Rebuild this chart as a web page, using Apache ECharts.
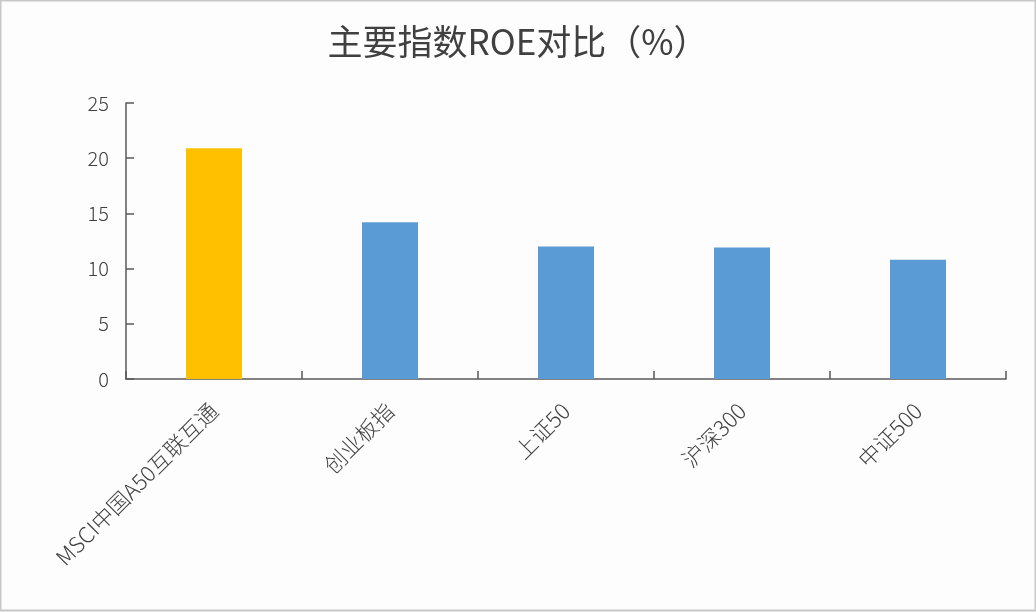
<!DOCTYPE html>
<html>
<head>
<meta charset="utf-8">
<script src="https://cdn.jsdelivr.net/npm/echarts@6/dist/echarts.min.js"></script>
<style>
html,body{margin:0;padding:0;background:#fdfdfd;}
#c{width:1036px;height:612px;}
</style>
</head>
<body>
<div id="c"></div>
<script>
const titleText = '主要指数ROE对比（%）';
const categories = ['MSCI中国A50互联互通', '创业板指', '上证50', '沪深300', '中证500'];
const roeValues = [20.9, 14.2, 12.0, 11.9, 10.8];
const barColors = ['#FFC000', '#5B9BD5', '#5B9BD5', '#5B9BD5', '#5B9BD5'];
const yTicks = { min: 0, max: 25, interval: 5 };

const chart = echarts.init(document.getElementById('c'));
const font = '"Noto Sans CJK SC", "Noto Sans", sans-serif';
chart.setOption({
  backgroundColor: '#fdfdfd',
  animation: false,
  title: {
    text: titleText,
    left: 'center',
    top: 19,
    textStyle: { fontFamily: font, fontSize: 35, fontWeight: 'normal', color: '#404040' }
  },
  graphic: [{
    type: 'rect',
    shape: { x: 0.5, y: 0.5, width: 1035, height: 610 },
    style: { fill: 'none', stroke: '#c8c8c8', lineWidth: 2 },
    silent: true
  }],
  grid: { left: 126, right: 30, top: 103, bottom: 233, containLabel: false },
  xAxis: {
    type: 'category',
    data: categories,
    boundaryGap: true,
    axisLine: { lineStyle: { color: '#595959', width: 1.5 } },
    axisTick: { show: true, inside: true, length: 8, alignWithLabel: false, lineStyle: { color: '#595959', width: 1.5 } },
    axisLabel: { rotate: 45, margin: 28, fontSize: 22, fontWeight: 300, color: '#404040', fontFamily: font, interval: 0 }
  },
  yAxis: {
    type: 'value',
    min: yTicks.min,
    max: yTicks.max,
    interval: yTicks.interval,
    axisLine: { show: true, lineStyle: { color: '#595959', width: 1.5 } },
    axisTick: { show: true, inside: true, length: 8, lineStyle: { color: '#595959', width: 1.5 } },
    splitLine: { show: false },
    axisLabel: { margin: 17, fontSize: 20, fontWeight: 300, color: '#404040', fontFamily: font }
  },
  series: [{
    type: 'bar',
    data: roeValues.map((v, i) => ({ value: v, itemStyle: { color: barColors[i] } })),
    barWidth: 56
  }]
});
</script>
</body>
</html>
